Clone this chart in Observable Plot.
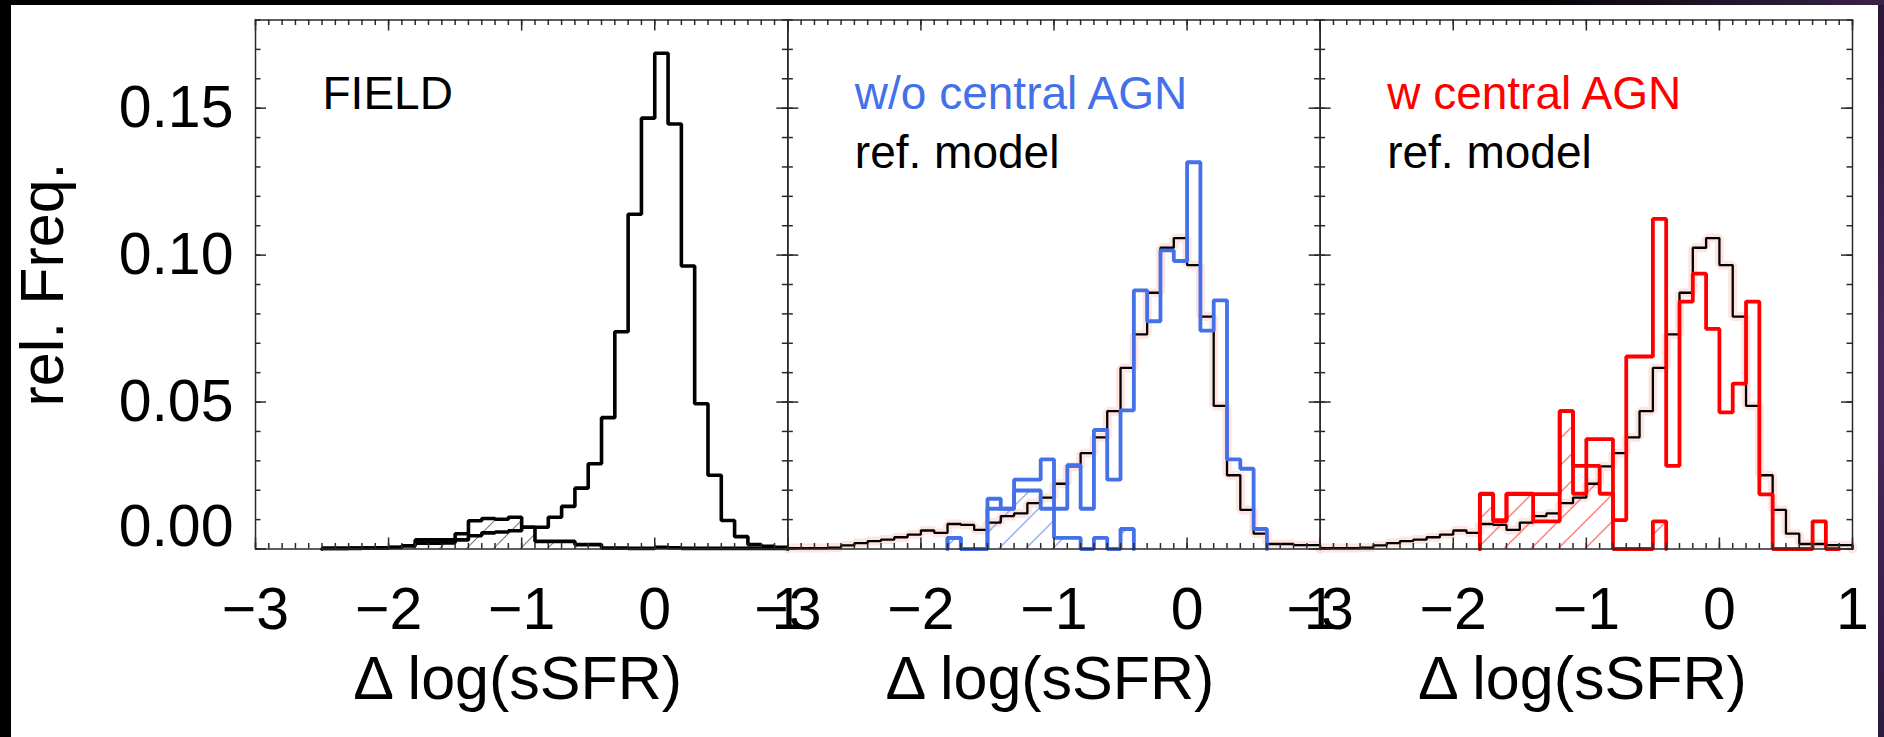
<!DOCTYPE html>
<html><head><meta charset="utf-8">
<script src="https://cdn.jsdelivr.net/npm/d3@7"></script>
<script src="https://cdn.jsdelivr.net/npm/@observablehq/plot@0.6"></script>
<style>
html,body{margin:0;padding:0;background:#000;width:1884px;height:737px;overflow:hidden;}
#strip{position:absolute;left:1878px;top:0;width:6px;height:737px;background:linear-gradient(#2b1636,#4a2a5e,#2e1a40);}
#topstrip{position:absolute;left:1500px;top:0;width:384px;height:5px;background:linear-gradient(90deg,#000,#3a2248);}
#paper{position:absolute;left:11px;top:5px;width:1867px;height:732px;background:#fff;}
</style></head><body>
<div id="strip"></div><div id="topstrip"></div><div id="paper"></div>
<script>
// ---------- data ----------
const panels = ["FIELD", "noAGN", "AGN"];
const panelTitles = ["FIELD", "w/o central AGN", "w central AGN"];
const refLabel = "ref. model";
const xLabel = "Δ log(sSFR)";
const yLabel = "rel. Freq.";

const binEdges = [-3.0,-2.9,-2.8,-2.7,-2.6,-2.5,-2.4,-2.3,-2.2,-2.1,-2.0,-1.9,-1.8,-1.7,-1.6,-1.5,-1.4,-1.3,-1.2,-1.1,-1.0,-0.9,-0.8,-0.7,-0.6,-0.5,-0.4,-0.3,-0.2,-0.1,0.0,0.1,0.2,0.3,0.4,0.5,0.6,0.7,0.8,0.9,1.0];

const fieldMain = [null,null,null,null,null, 0.0002,0.0002,0.0003,0.0003,0.0004, 0.0006,0.0011,0.0020,0.0020,0.0021, 0.0031,0.0045,0.0055,0.0058,0.0062, 0.0074,0.0074,0.0108,0.0145,0.0207, 0.0290,0.0447,0.0739,0.1139,0.1466, 0.1687,0.1446,0.0963,0.0494,0.0251, 0.0097,0.0042,0.0015,0.0009,0.0006];
const fieldSub = [null,null,null,null,null, 0.0002,0.0002,0.0002,0.0003,0.0003, 0.0005,0.0011,0.0031,0.0031,0.0031, 0.0052,0.0096,0.0104,0.0101,0.0108, 0.0074,0.0026,0.0026,0.0026,0.0015, 0.0015,0.0003,0.0003,0.0002,0.0002, 0.0006,0.0004,0.0002,0.0002,0.0002, 0.0002,0.0002,0.0002,0.0002,0.0002];
const refModel = [0.0003,0.0003,0.0003,0.0005,0.0012, 0.0020,0.0027,0.0032,0.0040,0.0049, 0.0063,0.0055,0.0085,0.0082,0.0065, 0.0090,0.0112,0.0121,0.0156,0.0175, 0.0222,0.0281,0.0326,0.0380,0.0469, 0.0616,0.0730,0.0872,0.1025,0.1058, 0.0966,0.0791,0.0487,0.0251,0.0133, 0.0052,0.0017,0.0017,0.0013,0.0013];
const noAgnMain = [null,null,null,null,null,null,null,null,null,null,null,null, 0.0038,0,0, 0.0171,0.0137,0.0236,0.0236,0.0305, 0.0137,0.0285,0.0137,0.0405,0.0236, 0.0472,0.0880,0.0775,0.1016,0.0980, 0.1316,0.0743,0.0846,0.0305,0.0273, 0.0068, null,null,null,null];
const noAgnSub = [null,null,null,null,null,null,null,null,null,null,null,null, 0.0038,0,0, 0.0137,0.0137,0.0199,0.0199,0.0137, 0.0038,0.0038,0,0.0038,0, 0.0068, null,null,null,null,null,null,null,null,null,null,null,null,null,null];
const agnMain = [null,null,null,null,null,null,null,null,null,null,null,null, 0.0187,0.0098,0.0187,0.0187,0.0187, 0.0187,0.0469,0.0283,0.0374,0.0374, 0.0098,0.0655,0.0655,0.1123,0.0283, 0.0842,0.0937,0.0749,0.0465,0.0563, 0.0842,0.0186,0,0,0, 0.0094,0, null];
const agnSub = [null,null,null,null,null,null,null,null,null,null,null,null, 0.0188,0.0094,0.0188,0.0188,0.0094, 0.0094,0.0469,0.0188,0.0283,0.0188, 0,0,0,0.0094, null,null,null,null,null,null,null,null,null,null,null,null,null,null];

const xMajorTicks = [-3, -2, -1, 0, 1];
const yMajorTicks = [0, 0.05, 0.10, 0.15];
const yLabelTicks = [0.05, 0.10, 0.15];
const yZeroTick = [0];
const yMinorTicks = [0,0.01,0.02,0.03,0.04,0.05,0.06,0.07,0.08,0.09,0.10,0.11,0.12,0.13,0.14,0.15,0.16,0.17,0.18];

// ---------- helpers ----------
function steps(values, panel) {
  const idx = values.map((v, i) => v == null ? -1 : i).filter(i => i >= 0);
  const i0 = idx[0], i1 = idx[idx.length - 1];
  const pts = [{panel, x: binEdges[i0], y: 0}];
  for (let i = i0; i <= i1; i++) pts.push({panel, x: binEdges[i], y: values[i]});
  pts.push({panel, x: binEdges[i1 + 1], y: values[i1]});
  pts.push({panel, x: binEdges[i1 + 1], y: 0});
  return pts;
}
const FONT = "'Liberation Sans', Arial, Helvetica, sans-serif";
const blue = "#4470e8", red = "#ff0000", ink = "#2a2a2a";
const fmtX = d => d < 0 ? "\u2212" + Math.abs(d) : String(d);
const fmtY = d3.format(".2f");

const WIDTH = 1867, HEIGHT = 732, ML = 244, MR = 26, MT = 14.5, MB = 188.5;
const facetW = (WIDTH - ML - MR) / panels.length;
const frameH = HEIGHT - MT - MB;
const majorLen = 11, minorLen = 5.5;

const fieldMainPts = steps(fieldMain, "FIELD");
const fieldSubPts = steps(fieldSub, "FIELD");
const refPts = steps(refModel, "noAGN").concat(steps(refModel, "AGN"));
const noAgnMainPts = steps(noAgnMain, "noAGN");
const noAgnSubPts = steps(noAgnSub, "noAGN");
const agnMainPts = steps(agnMain, "AGN");
const agnSubPts = steps(agnSub, "AGN");

const line = (data, stroke, strokeWidth, extra = {}) =>
  Plot.line(data, {x: "x", y: "y", fx: "panel", z: "panel", curve: "step-after", stroke, strokeWidth, strokeLinejoin: "miter", ...extra});
const hatch = (data, id) =>
  Plot.areaY(data, {x: "x", y: "y", fx: "panel", curve: "step-after", fill: `url(#${id})`});

const tk = {stroke: ink, strokeWidth: 1.5};

const titleRows = panels.map((p, i) => ({panel: p, text: panelTitles[i], color: i === 0 ? "#000" : i === 1 ? blue : red}));
const refRows = panels.slice(1).map(p => ({panel: p, text: refLabel}));

const svg = Plot.plot({
  width: WIDTH, height: HEIGHT,
  marginLeft: ML, marginRight: MR, marginTop: MT, marginBottom: MB,
  style: {fontFamily: FONT, background: "transparent", color: "#000", overflow: "visible"},
  fx: {domain: panels, padding: 0, round: false, axis: null},
  x: {domain: [-3, 1]},
  y: {domain: [0, 0.18]},
  color: {type: "identity"},
  marks: [
    line(refPts, "#ffdcd8", 9, {strokeOpacity: 0.75}),
    hatch(fieldSubPts, "hatchGray"),
    hatch(noAgnSubPts, "hatchBlue"),
    hatch(agnSubPts, "hatchRed"),
    line(fieldSubPts, "#000", 3.6),
    line(fieldMainPts, "#000", 3.6),
    line(refPts, "#000", 2.3),
    line(noAgnSubPts, blue, 3.8),
    line(noAgnMainPts, blue, 3.8),
    line(agnSubPts, red, 3.8),
    line(agnMainPts, red, 3.8),
    Plot.frame({stroke: ink, strokeWidth: 1.5}),
    // inward ticks (bottom, top, left, right) repeated in every panel
    Plot.tickX(xMajorTicks, {insetTop: frameH - majorLen, ...tk}),
    Plot.tickX(xMajorTicks, {insetBottom: frameH - majorLen, ...tk}),
    Plot.tickX(binEdges, {insetTop: frameH - minorLen, ...tk}),
    Plot.tickX(binEdges, {insetBottom: frameH - minorLen, ...tk}),
    Plot.tickY(yMajorTicks, {insetRight: facetW - majorLen, ...tk}),
    Plot.tickY(yMajorTicks, {insetLeft: facetW - majorLen, ...tk}),
    Plot.tickY(yMinorTicks, {insetRight: facetW - minorLen, ...tk}),
    Plot.tickY(yMinorTicks, {insetLeft: facetW - minorLen, ...tk}),
    // tick labels
    Plot.axisY({anchor: "left", ticks: yLabelTicks, tickSize: 0, tickPadding: 22, tickFormat: fmtY, fontSize: 59, label: null}),
    Plot.axisY({anchor: "left", ticks: yZeroTick, tickSize: 0, tickPadding: 22, tickFormat: fmtY, fontSize: 59, label: null, dy: -22}),
    Plot.axisX({anchor: "bottom", ticks: xMajorTicks, tickSize: 0, tickPadding: 38.5, tickFormat: fmtX, fontSize: 59, label: null}),
    // axis titles
    Plot.text(panels, {fx: d => d, text: () => xLabel, frameAnchor: "bottom", dx: -4, dy: 149.5, lineAnchor: "bottom", fontSize: 61, fill: "#000"}),
    Plot.text(panels.slice(0, 1), {fx: d => d, text: () => yLabel, frameAnchor: "left", rotate: -90, dx: -212, lineAnchor: "middle", textAnchor: "middle", fontSize: 61, fill: "#000"}),
    // panel annotations
    Plot.text(titleRows, {fx: "panel", text: "text", fill: "color", frameAnchor: "top-left", textAnchor: "start", lineAnchor: "bottom", dx: 67, dy: 88.5, fontSize: 46}),
    Plot.text(refRows, {fx: "panel", text: "text", fill: "#000", frameAnchor: "top-left", textAnchor: "start", lineAnchor: "bottom", dx: 67, dy: 147.5, fontSize: 46})
  ]
});

// hatch patterns
const ns = "http://www.w3.org/2000/svg";
const defs = document.createElementNS(ns, "defs");
for (const [id, color, w] of [["hatchGray", "#7a7a7a", 1.1], ["hatchBlue", "#6d93f0", 1.1], ["hatchRed", "#ff5555", 1.2]]) {
  const p = document.createElementNS(ns, "pattern");
  p.setAttribute("id", id);
  p.setAttribute("patternUnits", "userSpaceOnUse");
  p.setAttribute("width", 27);
  p.setAttribute("height", 27);
  const path = document.createElementNS(ns, "path");
  path.setAttribute("d", "M-3,30 L30,-3 M-3,3 L3,-3 M24,30 L30,24");
  path.setAttribute("stroke", color);
  path.setAttribute("stroke-width", w);
  path.setAttribute("fill", "none");
  p.appendChild(path);
  defs.appendChild(p);
}
svg.insertBefore(defs, svg.firstChild);
document.getElementById("paper").appendChild(svg);
</script></body></html>
